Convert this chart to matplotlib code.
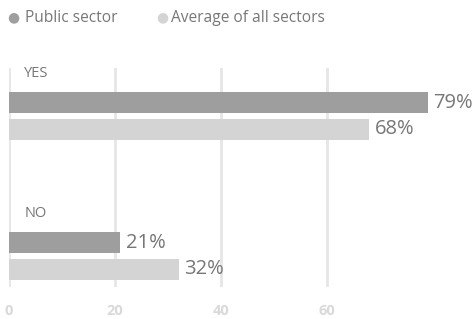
import numpy as np
import matplotlib.pyplot as plt

categories = ["YES", "NO"]
public_sector = [79, 21]
all_sectors = [68, 32]
series_names = ["Public sector", "Average of all sectors"]
ticks = [0, 20, 40, 60]

dark = "#9e9e9e"
light = "#d4d4d4"
text_col = "#777777"

plt.rcParams['font.family'] = ['Open Sans', 'DejaVu Sans']

fig = plt.figure(figsize=(4.73, 3.19), dpi=100)
ax = fig.add_axes([9 / 473, 32 / 319, 464 / 473, 219 / 319])

y = np.arange(len(categories))
h = 0.15
off = 0.0964
ax.barh(y - off, public_sector, height=h, color=dark, zorder=2)
ax.barh(y + off, all_sectors, height=h, color=light, zorder=2)

for i in range(len(categories)):
    ax.text(public_sector[i] + 1.0, y[i] - off, f"{public_sector[i]}%", va="center", ha="left",
            fontsize=14.5, color=text_col)
    ax.text(all_sectors[i] + 1.0, y[i] + off, f"{all_sectors[i]}%", va="center", ha="left",
            fontsize=14.5, color=text_col)
    ax.text(5.1, y[i] - 0.307, categories[i], ha="center", va="center", fontsize=10.5, color=text_col)

ax.set_xlim(0, 464 / 5.3)
ax.set_ylim(1 + 31 / 140, -48 / 140)
ax.set_xticks(ticks)
ax.set_yticks([])
ax.grid(axis="x", color="#e6e6e6", linewidth=2, zorder=0)
ax.tick_params(axis="x", length=0, pad=12.5, labelsize=10.5, labelcolor="#d9d9d9")
for lab in ax.get_xticklabels():
    lab.set_fontweight("bold")
for s in ax.spines.values():
    s.set_visible(False)

# legend
fig.text(13 / 473, 1 - 18 / 319, "\u25cf", color=dark, fontsize=10, ha="center", va="center")
fig.text(25 / 473, 1 - 18 / 319, series_names[0], color=text_col, fontsize=11.2, ha="left", va="center")
fig.text(162 / 473, 1 - 18 / 319, "\u25cf", color=light, fontsize=10, ha="center", va="center")
fig.text(171 / 473, 1 - 18 / 319, series_names[1], color=text_col, fontsize=11.2, ha="left", va="center")

fig.savefig("out.png", dpi=100)
